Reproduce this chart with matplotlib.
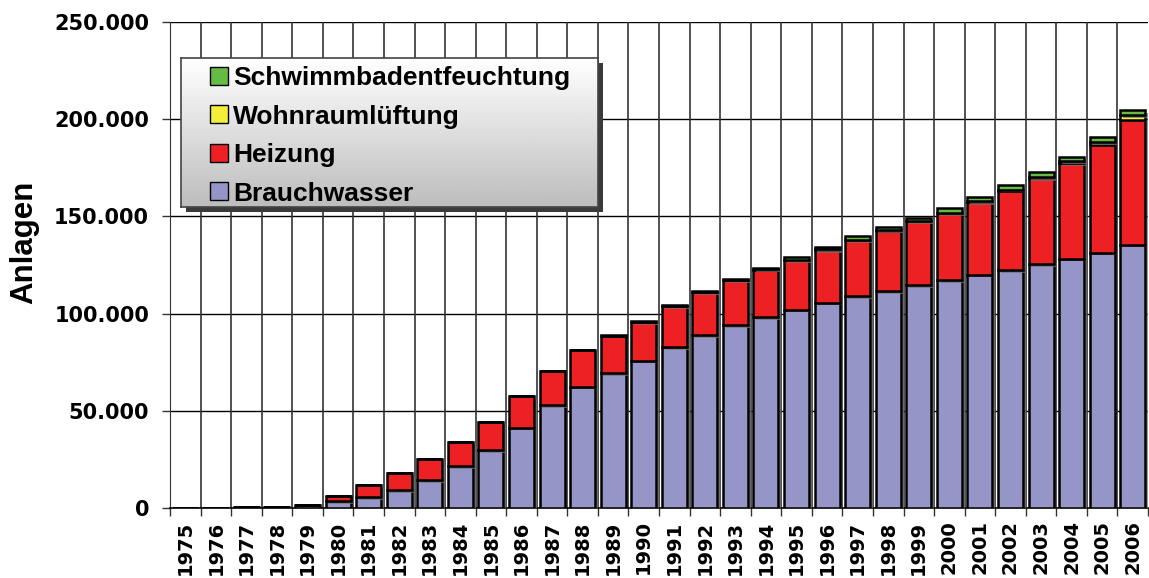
import numpy as np
import matplotlib
matplotlib.use('Agg')
import matplotlib.pyplot as plt
import matplotlib.patheffects as pe
from matplotlib.patches import Rectangle
from matplotlib.ticker import FuncFormatter, MultipleLocator

years = list(range(1975, 2007))

brauchwasser = [0, 0, 300, 700, 1500, 3600, 5700, 9400, 14400, 21600,
                29800, 41300, 52800, 62400, 69400, 75800, 82700, 88900, 94000, 98300,
                102100, 105700, 109000, 111700, 114600, 117300, 120100, 122300, 125300, 128300,
                131400, 135500]
heizung = [0, 0, 0, 0, 0, 2600, 6100, 8700, 10600, 12500,
           14600, 16400, 17900, 18800, 19300, 20000, 21200, 22200, 23200, 24300,
           25500, 27100, 28900, 31000, 32800, 34400, 37400, 41000, 44400, 49200,
           55500, 64300]
wohnraum = [0, 0, 0, 0, 0, 0, 0, 0, 0, 0,
            0, 0, 0, 0, 0, 0, 0, 0, 0, 100,
            100, 200, 200, 200, 300, 300, 400, 500, 600, 800,
            1300, 2200]
schwimmbad = [0, 0, 0, 0, 0, 0, 0, 0, 0, 0,
              0, 0, 0, 0, 200, 300, 500, 600, 700, 1000,
              1300, 1500, 1700, 1700, 1700, 2100, 2100, 2200, 2500, 2500,
              2600, 2600]

series = [("Brauchwasser", brauchwasser, "#9595C8"),
          ("Heizung", heizung, "#ED2024"),
          ("Wohnraumlüftung", wohnraum, "#F2EE3A"),
          ("Schwimmbadentfeuchtung", schwimmbad, "#66BB44")]

W, H = 1149, 578
fig = plt.figure(figsize=(W / 100, H / 100), dpi=100)
ax = fig.add_axes([170 / W, 1 - 508 / H, 978 / W, 486 / H])

x = np.arange(len(years))
shadow = [pe.SimplePatchShadow(offset=(2, -2), shadow_rgbFace='0.45', alpha=0.7), pe.Normal()]
bottom = np.zeros(len(years))
handles = []
for name, vals, col in series:
    vals = np.array(vals, dtype=float)
    b = ax.bar(x, vals, 0.82, bottom=bottom, color=col, edgecolor='black',
               linewidth=1.8, label=name, zorder=3)
    for p in b:
        p.set_path_effects(shadow)
    handles.append(b)
    bottom += vals

ax.set_xlim(-0.5, len(years) - 0.5)
ax.set_ylim(0, 250000)
ax.yaxis.set_major_locator(MultipleLocator(50000))
ax.yaxis.set_major_formatter(FuncFormatter(lambda v, p: f"{v:,.0f}".replace(',', '.')))
ax.set_xticks(x)
ax.set_xticklabels([str(y) for y in years], rotation=90)
ax.set_xticks(np.arange(-0.5, len(years)), minor=True)
ax.tick_params(axis='x', which='major', length=0, pad=9)
ax.tick_params(axis='x', which='minor', length=6, width=1, color='#333333')
ax.tick_params(axis='y', length=6, width=1, pad=9, color='#333333')
for lab in ax.get_xticklabels():
    lab.set_fontfamily('DejaVu Sans')
    lab.set_fontweight('bold')
    lab.set_fontsize(14)
for lab in ax.get_yticklabels():
    lab.set_fontfamily('DejaVu Sans')
    lab.set_fontweight('bold')
    lab.set_fontsize(15)

ax.grid(False)
for yv in range(50000, 250001, 50000):
    ax.axhline(yv, color='black', lw=1, zorder=1)
for xv in np.arange(0.5, len(years) - 1):
    ax.axvline(xv, color='#333333', lw=1.2, zorder=1)
for s in ['top', 'right']:
    ax.spines[s].set_visible(False)
ax.spines['left'].set_color('#333333')
ax.spines['bottom'].set_color('black')
ax.spines['bottom'].set_linewidth(1.2)

fig.text(24 / W, 1 - 242 / H, "Anlagen", rotation=90, ha='center', va='center',
         fontfamily='Liberation Sans', fontweight='bold', fontsize=22.5)

# legend frame with gradient and shadow
lx, ly, lw, lh = 181, 58, 417, 149
fig.patches.append(Rectangle(((lx + 5) / W, 1 - (ly + lh + 5) / H), lw / W, lh / H,
                             transform=fig.transFigure, facecolor='#3a3a3a',
                             edgecolor='none', zorder=2))
lax = fig.add_axes([lx / W, 1 - (ly + lh) / H, lw / W, lh / H], zorder=3)
grad = np.linspace(1.0, 0.74, 100).reshape(-1, 1)
lax.imshow(grad, aspect='auto', cmap='gray', vmin=0, vmax=1, extent=(0, 1, 0, 1))
lax.set_xticks([])
lax.set_yticks([])
for s in lax.spines.values():
    s.set_color('#444444')
    s.set_linewidth(1.2)

leg = fig.legend(handles[::-1], [s[0] for s in series][::-1], loc='upper left',
                 bbox_to_anchor=(210 / W, 1 - 66 / H), frameon=False,
                 prop={'family': 'Liberation Sans', 'weight': 'bold', 'size': 19},
                 handlelength=0.68, handleheight=0.65, handletextpad=0.2,
                 labelspacing=0.55, borderpad=0, borderaxespad=0)
leg.set_zorder(5)
for h in leg.legend_handles:
    h.set_path_effects([])
    h.set_linewidth(1)

fig.savefig('out.png', dpi=100)
